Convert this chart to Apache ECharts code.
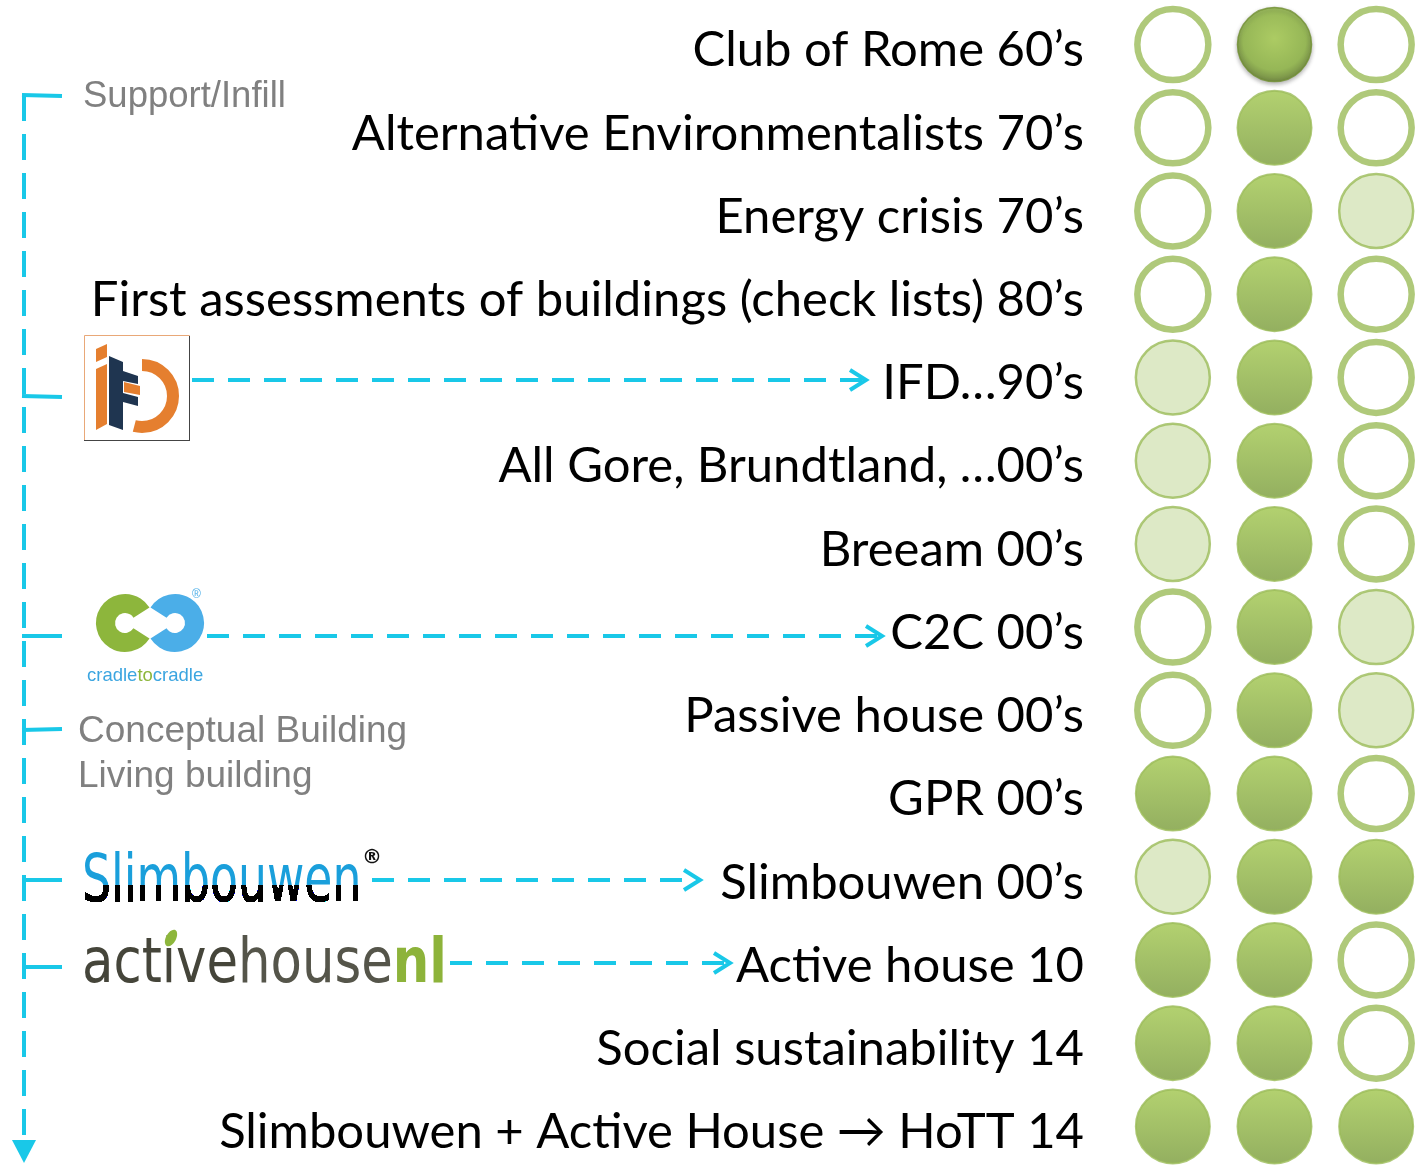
<!DOCTYPE html>
<html>
<head>
<meta charset="utf-8">
<script src="https://cdn.jsdelivr.net/npm/echarts@6/dist/echarts.min.js"></script>
<style>
  html, body { margin: 0; padding: 0; background: #fff; }
  #main { width: 1426px; height: 1165px; }
</style>
</head>
<body>
<div id="main"></div>
<script>
// rows of the timeline, top to bottom
var rows = [
  'Club of Rome 60’s',
  'Alternative Environmentalists 70’s',
  'Energy crisis 70’s',
  'First assessments of buildings (check lists) 80’s',
  'IFD…90’s',
  'All Gore, Brundtland, …00’s',
  'Breeam 00’s',
  'C2C 00’s',
  'Passive house 00’s',
  'GPR 00’s',
  'Slimbouwen 00’s',
  'Active house 10',
  'Social sustainability 14',
  'Slimbouwen + Active House \u2192 HoTT 14'
];
var columns = ['c1', 'c2', 'c3'];
// 0 = open ring, 1 = light fill, 2 = full
var col1 = [0, 0, 0, 0, 1, 1, 1, 0, 0, 2, 1, 2, 2, 2];
var col2 = [2, 2, 2, 2, 2, 2, 2, 2, 2, 2, 2, 2, 2, 2];
var col3 = [0, 0, 1, 0, 0, 0, 0, 1, 1, 0, 2, 0, 0, 2];

var GREEN = '#9BBB59';
var CYAN = '#19C8E8';

function dotStyle(state, r, c) {
  if (state === 0) {
    return { symbolSize: 71, itemStyle: { color: '#fff', borderColor: GREEN, borderWidth: 6.5 } };
  }
  if (state === 1) {
    return { symbolSize: 74, itemStyle: { color: '#D5E3B8', borderColor: GREEN, borderWidth: 2.5 } };
  }
  if (r === 0 && c === 1) {
    // glossy one on the first row
    return {
      symbolSize: 74,
      itemStyle: {
        color: {
          type: 'radial', x: 0.5, y: 0.42, r: 0.6,
          colorStops: [
            { offset: 0, color: '#A9D04E' },
            { offset: 0.7, color: '#8DB63E' },
            { offset: 1, color: '#5A7524' }
          ]
        },
        borderColor: '#6F8E2F', borderWidth: 1.5,
        shadowColor: 'rgba(0,0,0,0.35)', shadowBlur: 4, shadowOffsetY: 2
      }
    };
  }
  return {
    symbolSize: 74,
    itemStyle: {
      color: {
        type: 'linear', x: 0, y: 0, x2: 0, y2: 1,
        colorStops: [
          { offset: 0, color: '#A0C64C' },
          { offset: 1, color: '#789B38' }
        ]
      },
      borderColor: GREEN, borderWidth: 2
    }
  };
}

var dots = [];
[col1, col2, col3].forEach(function (col, c) {
  col.forEach(function (state, r) {
    var s = dotStyle(state, r, c);
    dots.push({ value: [c, r], symbolSize: s.symbolSize, itemStyle: s.itemStyle });
  });
});

function dash(x1, y1, x2, y2) {
  return {
    type: 'line', silent: true,
    shape: { x1: x1, y1: y1, x2: x2, y2: y2 },
    style: { stroke: CYAN, lineWidth: 4, lineDash: [22, 14] }
  };
}
function solid(x1, y1, x2, y2) {
  return {
    type: 'line', silent: true,
    shape: { x1: x1, y1: y1, x2: x2, y2: y2 },
    style: { stroke: CYAN, lineWidth: 4 }
  };
}
function chevron(x, y) {
  return {
    type: 'polyline', silent: true,
    shape: { points: [[x - 16, y - 10], [x, y], [x - 16, y + 10]] },
    style: { stroke: CYAN, lineWidth: 4, fill: null }
  };
}
function grayText(txt, x, y, size) {
  return {
    type: 'text', x: x, y: y, silent: true,
    style: { text: txt, fontFamily: 'Liberation Sans', fontSize: size, fill: '#808080', verticalAlign: 'middle' }
  };
}

var deco = [
  // timeline
  {
    type: 'line', silent: true,
    shape: { x1: 24, y1: 95, x2: 24, y2: 1142 },
    style: { stroke: CYAN, lineWidth: 4, lineDash: [26, 13] }
  },
  { type: 'polygon', silent: true, shape: { points: [[12, 1140], [36, 1140], [24, 1163]] }, style: { fill: CYAN } },
  solid(22, 95, 62, 96),
  solid(22, 396, 62, 397),
  solid(22, 636, 62, 636),
  solid(22, 730, 62, 729),
  solid(22, 880, 62, 880),
  solid(22, 967, 62, 967),

  grayText('Support/Infill', 83, 97, 36.5),
  grayText('Conceptual Building', 78, 732, 37),
  grayText('Living building', 78, 777, 37),

  // IFD logo
  { type: 'rect', silent: true, shape: { x: 84.5, y: 335.5, width: 105, height: 105 }, style: { fill: '#fff', stroke: '#E9A878', lineWidth: 1 } },
  { type: 'line', silent: true, shape: { x1: 84, y1: 440.5, x2: 190, y2: 440.5 }, style: { stroke: '#444', lineWidth: 1 } },
  { type: 'line', silent: true, shape: { x1: 189.5, y1: 336, x2: 189.5, y2: 441 }, style: { stroke: '#444', lineWidth: 1 } },
  { type: 'arc', silent: true, shape: { cx: 142, cy: 396, r: 31, startAngle: -Math.PI * 0.5, endAngle: Math.PI * 0.58 }, style: { stroke: '#E57F2F', lineWidth: 12, fill: null } },
  { type: 'polygon', silent: true, shape: { points: [[96, 349], [107, 344], [107, 357], [96, 362]] }, style: { fill: '#E57F2F' } },
  { type: 'polygon', silent: true, shape: { points: [[96, 369], [107, 364], [107, 424], [96, 430]] }, style: { fill: '#E57F2F' } },
  { type: 'polygon', silent: true, shape: { points: [[109, 356], [123, 362], [123, 371], [138, 376], [138, 384], [123, 381], [123, 393], [138, 397], [138, 406], [123, 402], [123, 430], [109, 425]] }, style: { fill: '#1F3550' } },
  { type: 'polygon', silent: true, shape: { points: [[124, 382], [140, 386], [140, 395], [124, 392]] }, style: { fill: '#E57F2F' } },

  // cradle to cradle logo
  { type: 'arc', silent: true, shape: { cx: 125, cy: 623, r: 19.5, startAngle: Math.PI * 0.18, endAngle: Math.PI * 1.82 }, style: { stroke: '#8DB63C', lineWidth: 19, fill: null } },
  { type: 'arc', silent: true, shape: { cx: 175, cy: 623, r: 19.5, startAngle: -Math.PI * 0.82, endAngle: Math.PI * 0.82 }, style: { stroke: '#4BAEE8', lineWidth: 19, fill: null } },
  {
    type: 'text', x: 87, y: 676, silent: true,
    style: {
      text: '{b|cradle}{g|to}{b|cradle}', verticalAlign: 'middle',
      rich: {
        b: { fontFamily: 'Liberation Sans', fontSize: 18.5, fill: '#3BA5E0' },
        g: { fontFamily: 'Liberation Sans', fontSize: 18.5, fill: '#8DB63C' }
      }
    }
  },
  { type: 'text', x: 192, y: 595, silent: true, style: { text: '®', fontFamily: 'Liberation Sans', fontSize: 12, fill: '#4BAEE8', verticalAlign: 'middle' } },

  // Slimbouwen logo: blue text, lower part burnt to black
  {
    type: 'text', x: 82, y: 884, scaleX: 0.77, silent: true, z: 10,
    style: { text: 'Slimbouwen', fontFamily: 'DejaVu Sans Condensed', fontSize: 66, verticalAlign: 'middle', fill: '#1A9FDB' }
  },
  {
    type: 'rect', silent: true, z: 11,
    shape: { x: 78, y: 885, width: 288, height: 30 },
    style: { fill: '#000', blend: 'color-burn' }
  },
  { type: 'text', x: 362, y: 858, silent: true, style: { text: '®', fontFamily: 'DejaVu Sans', fontSize: 20, fontWeight: 'bold', fill: '#111', verticalAlign: 'middle' } },

  // active house nl logo
  {
    type: 'text', x: 82, y: 966, scaleX: 0.92, silent: true,
    style: {
      text: '{a|active}{h|house}{n|nl}', verticalAlign: 'middle',
      rich: {
        a: { fontFamily: 'DejaVu Sans Condensed', fontSize: 62, fill: '#45453A' },
        h: { fontFamily: 'DejaVu Sans Condensed', fontSize: 62, fill: '#55554A' },
        n: { fontFamily: 'DejaVu Sans Condensed', fontSize: 62, fill: '#8DB33A', fontWeight: 'bold' }
      }
    }
  },
  { type: 'ellipse', silent: true, x: 171, y: 938, rotation: -0.5, shape: { cx: 0, cy: 0, rx: 5, ry: 9 }, style: { fill: '#8DB63C' } },

  // dashed pointers
  dash(192, 380, 864, 380), chevron(866, 380),
  dash(207, 636, 880, 636), chevron(882, 636),
  dash(372, 880, 698, 880), chevron(700, 880),
  dash(450, 963, 728, 963), chevron(730, 963)
];

var chart = echarts.init(document.getElementById('main'));
chart.setOption({
  backgroundColor: '#fff',
  animation: false,
  grid: { left: 1122, top: 3, width: 305, height: 1165, containLabel: false, outerBoundsMode: 'none' },
  xAxis: {
    type: 'category', data: columns,
    axisLine: { show: false }, axisTick: { show: false }, axisLabel: { show: false }, splitLine: { show: false }
  },
  yAxis: {
    type: 'category', data: rows, inverse: true,
    axisLine: { show: false }, axisTick: { show: false }, splitLine: { show: false },
    axisLabel: { margin: 38, fontFamily: 'Lato', fontSize: 49, color: '#000', verticalAlign: 'top', lineHeight: 12 }
  },
  series: [{
    type: 'scatter',
    symbol: 'circle',
    data: dots
  }],
  graphic: { elements: deco }
});
</script>
</body>
</html>
